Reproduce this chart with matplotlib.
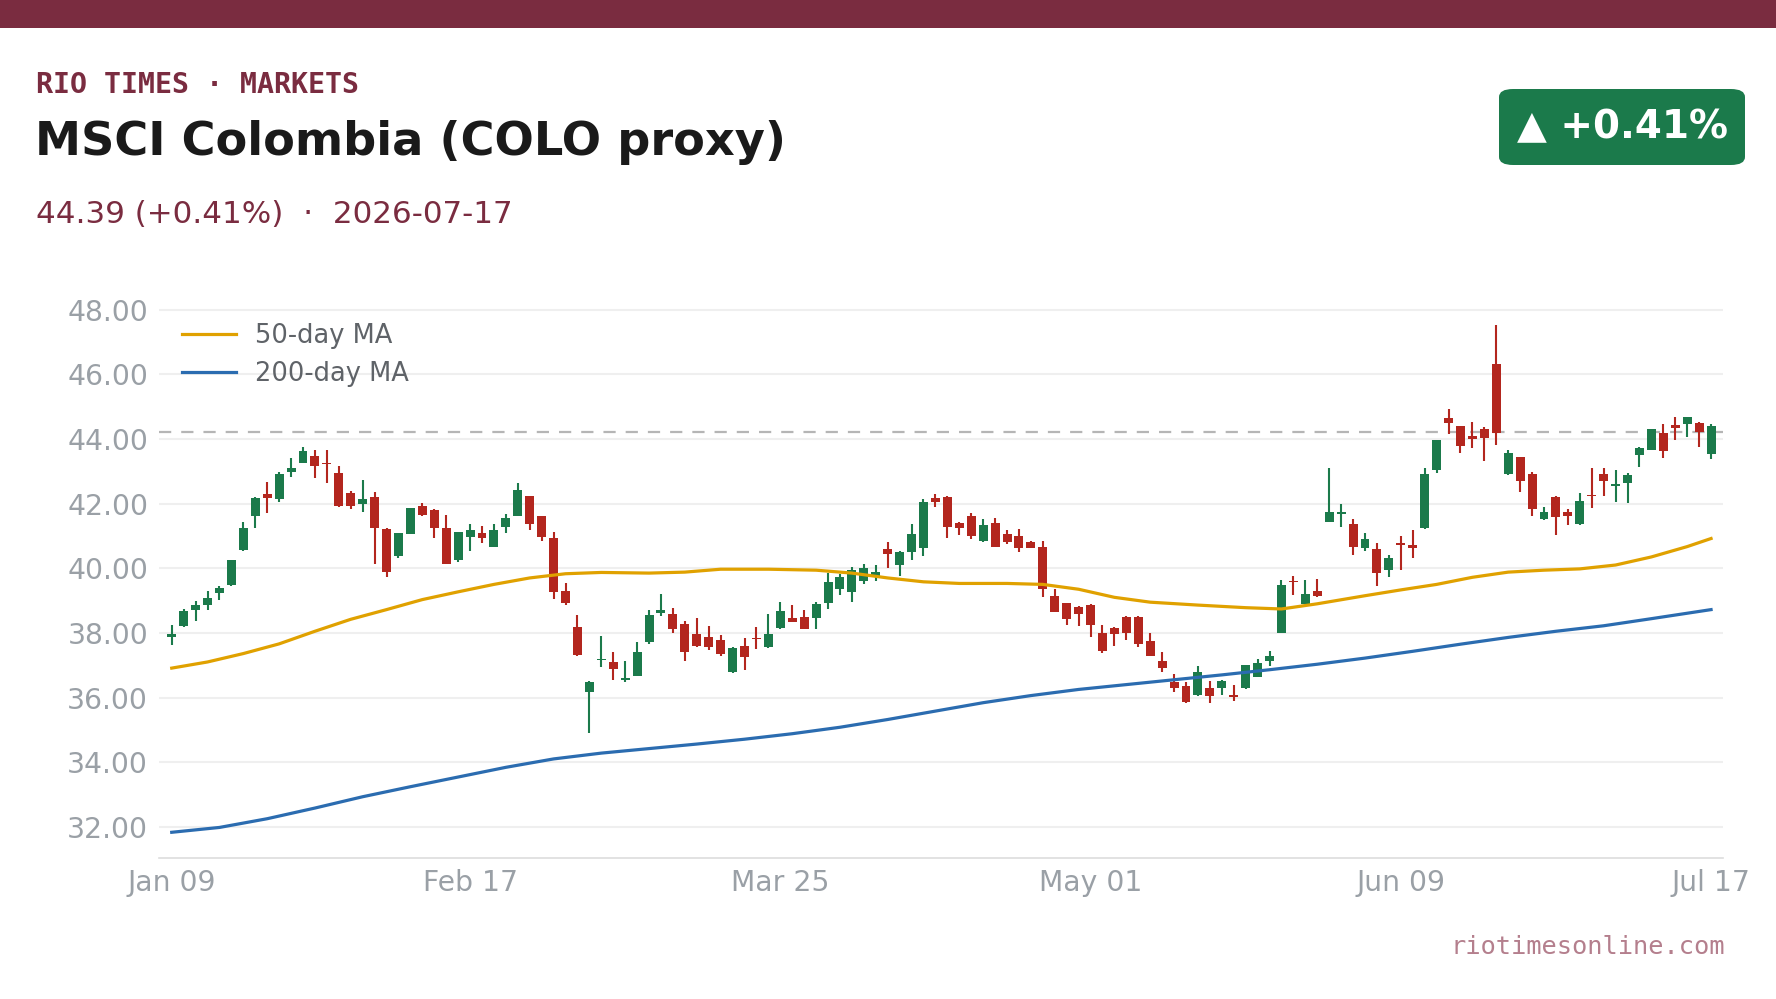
import matplotlib
matplotlib.use("Agg")
import matplotlib.pyplot as plt
from matplotlib.patches import Rectangle, FancyBboxPatch

# colours
MAROON = "#7a2c40"
UP = "#1b7a4b"
DOWN = "#b3261e"
GOLD = "#e0a100"
BLUE = "#2b6cb0"
GRAY = "#9aa0a6"

# daily candles, Jan 09 .. Jul 17 2026 (trading days)
opens = [37.87, 38.20, 38.71, 38.87, 39.22, 39.47, 40.55, 41.63, 42.30, 42.15,
         42.98, 43.27, 43.47, 43.27, 42.95, 42.33, 42.00, 42.21, 41.22, 40.39,
         41.07, 41.93, 41.80, 41.25, 40.24, 40.98, 41.10, 40.67, 41.29, 41.63,
         42.24, 41.62, 40.94, 39.30, 38.19, 36.16, 37.15, 37.11, 36.53, 36.68,
         37.73, 38.60, 38.59, 38.28, 37.97, 37.88, 37.79, 36.78, 37.60, 37.85,
         37.57, 38.16, 38.47, 38.50, 38.45, 38.94, 39.37, 39.25, 39.62, 39.74,
         40.60, 40.09, 40.49, 40.64, 42.18, 42.21, 41.40, 41.62, 40.83, 41.40,
         41.06, 41.00, 40.81, 40.66, 39.15, 38.93, 38.81, 38.87, 38.00, 38.16,
         38.50, 38.50, 37.76, 37.14, 36.49, 36.37, 36.07, 36.30, 36.28, 36.07,
         36.28, 36.65, 37.12, 38.01, 39.60, 38.90, 39.30, 41.44, 41.69, 41.37,
         40.64, 40.60, 39.96, 40.79, 40.72, 41.23, 43.03, 44.65, 44.40, 44.09,
         44.31, 46.32, 42.93, 43.44, 42.92, 41.51, 42.21, 41.74, 41.38, 42.27,
         42.92, 42.56, 42.65, 43.51, 43.66, 44.19, 44.43, 44.47, 44.50, 43.53]
highs = [38.25, 38.74, 38.99, 39.30, 39.46, 40.27, 41.43, 42.19, 42.67, 42.97,
         43.41, 43.75, 43.66, 43.66, 43.17, 42.39, 42.73, 42.36, 41.23, 41.09,
         41.87, 42.02, 41.84, 41.65, 41.12, 41.37, 41.31, 41.37, 41.68, 42.65,
         42.25, 41.63, 41.12, 39.54, 38.56, 36.51, 37.91, 37.42, 37.14, 37.72,
         38.71, 39.21, 38.78, 38.37, 38.47, 38.22, 37.94, 37.57, 37.85, 38.19,
         38.59, 38.96, 38.87, 38.71, 38.96, 39.86, 39.83, 40.04, 40.14, 40.11,
         40.82, 40.54, 41.37, 42.15, 42.30, 42.22, 41.43, 41.71, 41.52, 41.56,
         41.19, 41.22, 40.84, 40.85, 39.36, 38.94, 38.82, 38.88, 38.25, 38.19,
         38.51, 38.51, 38.00, 37.42, 36.74, 36.49, 36.98, 36.52, 36.55, 36.40,
         37.02, 37.20, 37.45, 39.64, 39.77, 39.64, 39.67, 43.10, 41.99, 41.53,
         41.09, 40.79, 40.41, 41.00, 41.19, 43.10, 43.98, 44.93, 44.41, 44.53,
         44.37, 47.52, 43.66, 43.45, 42.98, 41.90, 42.22, 41.84, 42.33, 43.10,
         43.10, 43.04, 42.95, 43.75, 44.32, 44.46, 44.68, 44.69, 44.51, 44.46]
lows = [37.63, 38.19, 38.37, 38.71, 39.02, 39.46, 40.54, 41.26, 41.72, 42.06,
        42.81, 43.26, 42.80, 42.65, 41.88, 41.83, 41.75, 40.12, 39.74, 40.33,
        41.06, 41.62, 40.95, 40.12, 40.18, 40.52, 40.77, 40.66, 41.09, 41.62,
        41.17, 40.83, 39.04, 38.86, 37.30, 34.90, 36.93, 36.53, 36.47, 36.67,
        37.67, 38.53, 38.01, 37.12, 37.56, 37.46, 37.30, 36.77, 36.86, 37.51,
        37.52, 38.13, 38.33, 38.12, 38.11, 38.73, 39.16, 38.97, 39.50, 39.62,
        40.01, 39.77, 40.24, 40.39, 41.88, 40.95, 41.04, 40.89, 40.82, 40.66,
        40.75, 40.51, 40.63, 39.10, 38.65, 38.25, 38.20, 37.86, 37.37, 37.58,
        37.79, 37.55, 37.29, 36.78, 36.16, 35.84, 36.06, 35.82, 36.07, 35.88,
        36.27, 36.64, 36.98, 38.00, 39.16, 38.89, 39.10, 41.43, 41.29, 40.42,
        40.52, 39.44, 39.74, 39.96, 40.33, 41.22, 42.94, 44.14, 43.58, 43.73,
        43.33, 43.80, 42.87, 42.37, 41.63, 41.50, 41.04, 41.35, 41.35, 41.85,
        42.22, 42.06, 42.03, 43.14, 43.65, 43.42, 43.98, 44.07, 43.76, 43.39]
closes = [37.97, 38.68, 38.87, 39.09, 39.40, 40.26, 41.25, 42.18, 42.16, 42.92,
          43.09, 43.63, 43.15, 43.22, 41.94, 41.94, 42.15, 41.23, 39.87, 41.09,
          41.85, 41.66, 41.23, 40.12, 41.11, 41.19, 40.95, 41.19, 41.55, 42.42,
          41.38, 40.98, 39.28, 38.91, 37.33, 36.49, 37.20, 36.87, 36.61, 37.42,
          38.56, 38.71, 38.13, 37.40, 37.60, 37.57, 37.35, 37.54, 37.24, 37.82,
          37.97, 38.68, 38.34, 38.13, 38.90, 39.58, 39.73, 39.95, 40.01, 39.89,
          40.43, 40.51, 41.06, 42.05, 42.06, 41.29, 41.23, 41.01, 41.34, 40.67,
          40.82, 40.64, 40.64, 39.37, 38.66, 38.42, 38.57, 38.23, 37.43, 37.98,
          38.01, 37.67, 37.30, 36.90, 36.28, 35.85, 36.80, 36.04, 36.52, 36.01,
          37.01, 37.08, 37.29, 39.49, 39.56, 39.21, 39.13, 41.74, 41.73, 40.67,
          40.91, 39.84, 40.32, 40.73, 40.64, 42.92, 43.97, 44.50, 43.79, 44.01,
          44.04, 44.20, 43.57, 42.71, 41.82, 41.74, 41.60, 41.63, 42.08, 42.22,
          42.71, 42.61, 42.89, 43.72, 44.31, 43.64, 44.35, 44.68, 44.21, 44.39]

# moving averages at these sessions
ma50_idx = [0, 3, 6, 9, 12, 15, 18, 21, 24, 27, 30, 33, 36, 40, 43, 46, 50, 54,
            57, 60, 63, 66, 70, 73, 76, 79, 82, 86, 90, 93, 96, 100, 103, 106,
            109, 112, 115, 118, 121, 124, 127, 129]
ma50 = [36.91, 37.10, 37.36, 37.66, 38.05, 38.42, 38.72, 39.03, 39.27, 39.50,
        39.70, 39.83, 39.87, 39.85, 39.88, 39.97, 39.97, 39.94, 39.85, 39.70,
        39.58, 39.53, 39.53, 39.50, 39.35, 39.10, 38.95, 38.86, 38.78, 38.74,
        38.90, 39.15, 39.33, 39.50, 39.72, 39.88, 39.94, 39.98, 40.10, 40.35,
        40.67, 40.92]
ma200_idx = [0, 4, 8, 12, 16, 20, 24, 28, 32, 36, 40, 44, 48, 52, 56, 60, 64,
             68, 72, 76, 80, 84, 88, 92, 96, 100, 104, 108, 112, 116, 120, 124,
             129]
ma200 = [31.83, 31.98, 32.25, 32.58, 32.93, 33.24, 33.54, 33.84, 34.10, 34.28,
         34.42, 34.56, 34.71, 34.88, 35.08, 35.32, 35.58, 35.84, 36.06, 36.25,
         36.40, 36.55, 36.70, 36.86, 37.03, 37.22, 37.43, 37.65, 37.86, 38.05,
         38.22, 38.44, 38.72]

prev_close = 44.21
tick_idx = [0, 25, 51, 77, 103, 129]
tick_labels = ["Jan 09", "Feb 17", "Mar 25", "May 01", "Jun 09", "Jul 17"]

W, H = 1776, 999
fig = plt.figure(figsize=(W / 100, H / 100), dpi=100)
fig.patch.set_facecolor("white")

def fx(px):
    return px / W

def fy(py):
    return 1 - py / H

# top bar
fig.add_artist(Rectangle((0, fy(28)), 1, 28 / H, transform=fig.transFigure,
                         color=MAROON, lw=0))

fig.text(fx(36), fy(93), "RIO TIMES · MARKETS", family="DejaVu Sans Mono",
         weight="bold", fontsize=20.3, color=MAROON, va="baseline")
fig.text(fx(35), fy(155), "MSCI Colombia (COLO proxy)", weight="bold",
         fontsize=33.3, color="#1a1a1a", va="baseline")
fig.text(fx(36), fy(223), "44.39 (+0.41%)  ·  2026-07-17", fontsize=22.3,
         color=MAROON, va="baseline")

# badge
fig.add_artist(FancyBboxPatch((fx(1499), fy(165)), fx(246), 76 / H,
                              boxstyle="round,pad=0,rounding_size=0.008",
                              transform=fig.transFigure, color=UP, lw=0))
fig.text(fx(1622), fy(127), "▲ +0.41%", weight="bold", fontsize=28,
         color="white", ha="center", va="center")

fig.text(fx(1725), fy(954), "riotimesonline.com", family="DejaVu Sans Mono",
         fontsize=18.3, color="#b47f8d", ha="right", va="baseline")

ax = fig.add_axes([fx(158.6), 1 - 857.5 / H, (1723 - 158.6) / W, (857.5 - 300) / H])
ax.set_facecolor("white")

x = list(range(len(closes)))
cols = [UP if c >= o else DOWN for o, c in zip(opens, closes)]
bottoms = [min(o, c) for o, c in zip(opens, closes)]
heights = [max(abs(c - o), 0.03) for o, c in zip(opens, closes)]

ax.vlines(x, lows, highs, colors=cols, linewidth=1.5, zorder=3)
ax.bar(x, heights, bottom=bottoms, width=0.75, color=cols, linewidth=0, zorder=3)

ax.plot(ma50_idx, ma50, color=GOLD, lw=2.3, zorder=4, label="50-day MA",
        solid_joinstyle="round")
ax.plot(ma200_idx, ma200, color=BLUE, lw=2.3, zorder=4, label="200-day MA",
        solid_joinstyle="round")
ax.axhline(prev_close, color="#b5b5b5", lw=1.6, ls=(0, (5.5, 4.5)), zorder=2)

ax.set_xlim(-1.1, 130)
ax.set_ylim(31.05, 48.3)
yt = [32, 34, 36, 38, 40, 42, 44, 46, 48]
ax.set_yticks(yt)
ax.set_yticklabels([f"{v:.2f}" for v in yt])
ax.set_xticks(tick_idx)
ax.set_xticklabels(tick_labels)
ax.tick_params(axis="both", length=0, labelsize=20.3, labelcolor=GRAY)
ax.tick_params(axis="y", pad=7.5)
ax.tick_params(axis="x", pad=8)
ax.grid(axis="y", color="#efefef", lw=1.5, zorder=0)
ax.set_axisbelow(True)
for s in ["top", "right", "left"]:
    ax.spines[s].set_visible(False)
ax.spines["bottom"].set_color("#dddddd")
ax.spines["bottom"].set_linewidth(1.2)

leg = ax.legend(loc="upper left", frameon=False, fontsize=18.5, handlelength=2.1,
                handletextpad=0.75, labelspacing=0.45)
for t in leg.get_texts():
    t.set_color("#5f6368")

fig.savefig("out.png", dpi=100)
